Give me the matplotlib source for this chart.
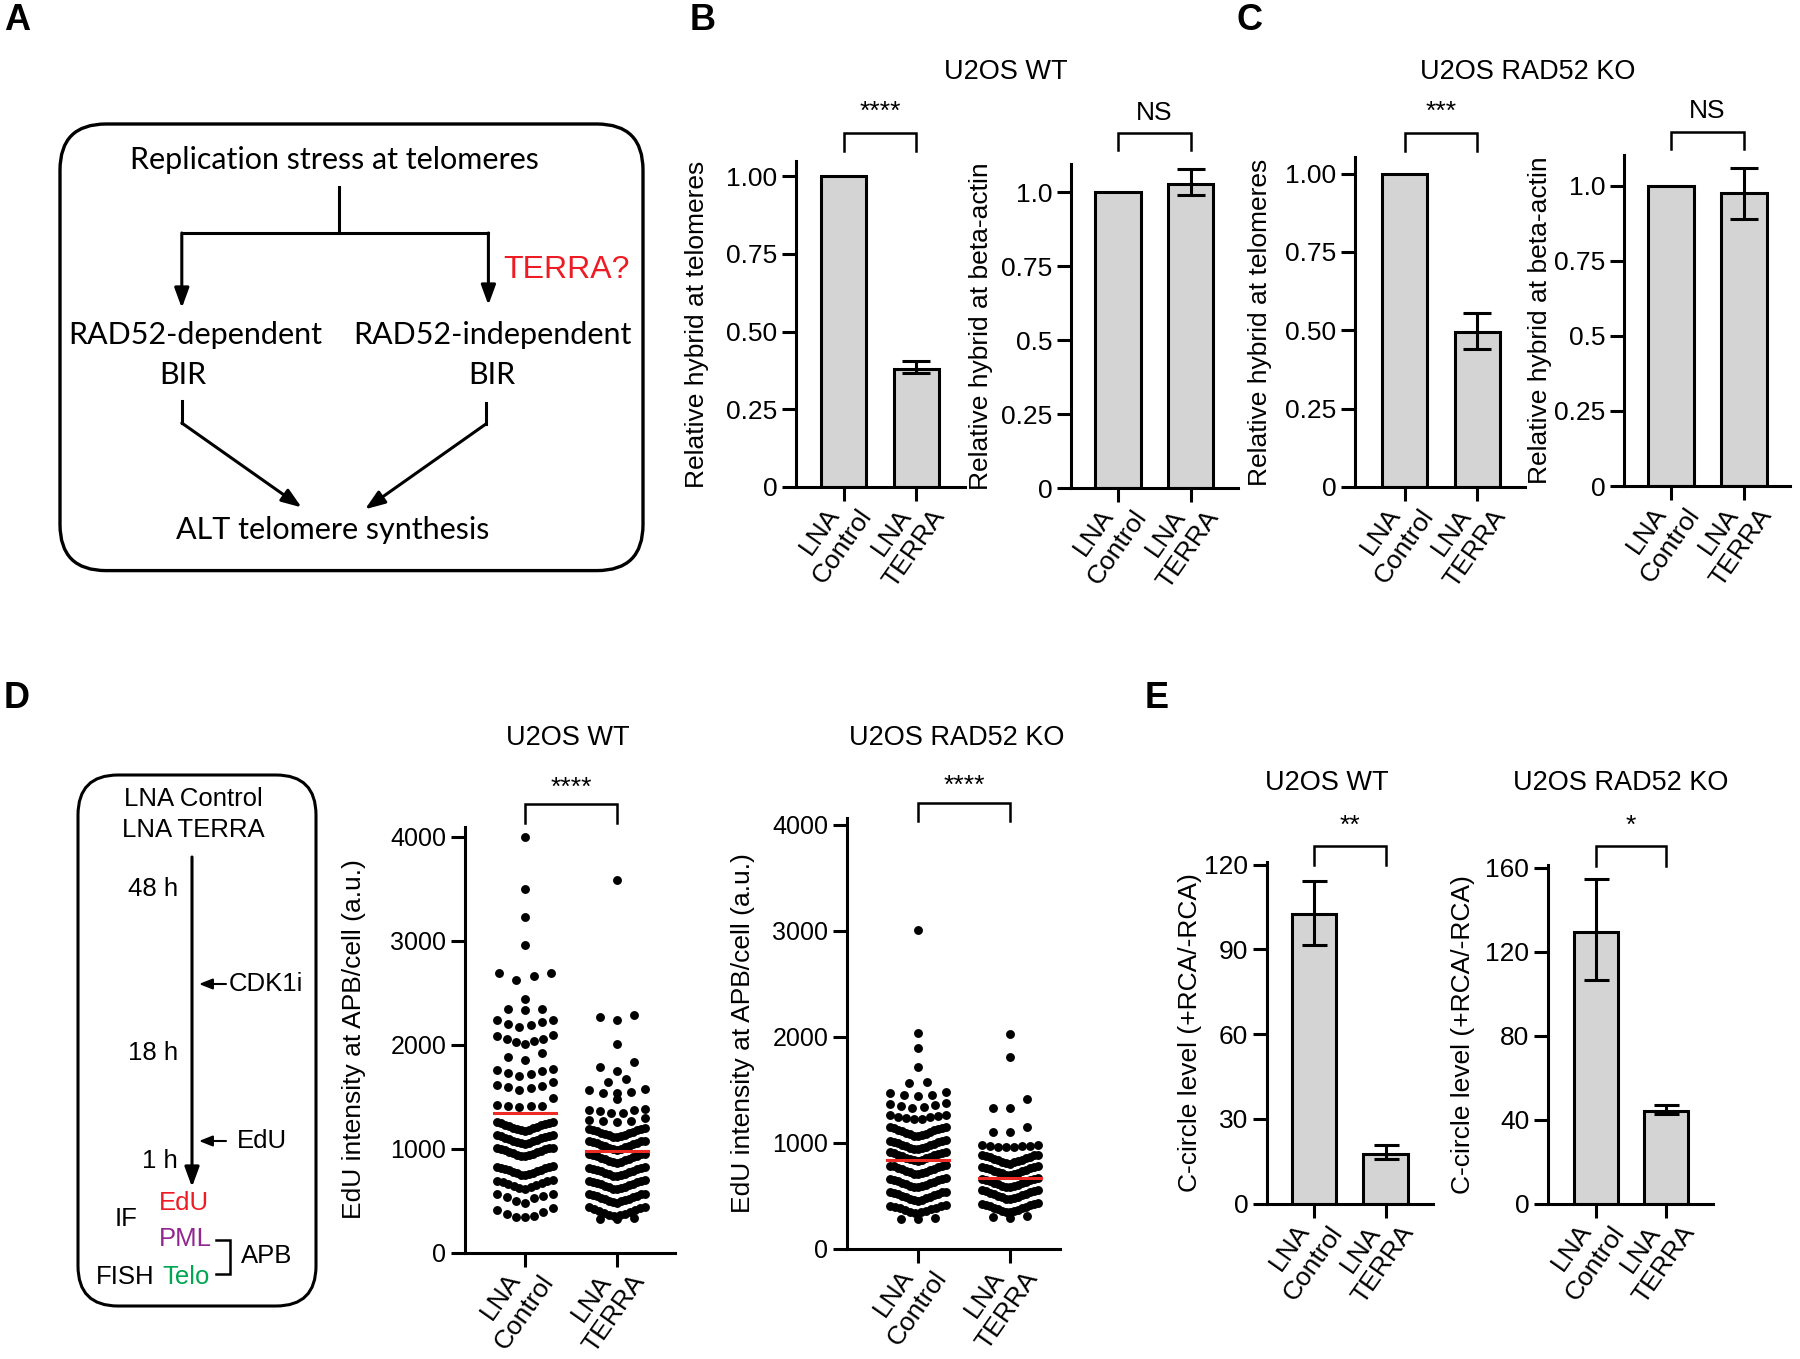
import matplotlib
matplotlib.use("Agg")
import matplotlib.pyplot as plt
import matplotlib.transforms as mtransforms
from matplotlib.patches import FancyBboxPatch

W, H = 1800, 1359
plt.rcParams['font.family'] = ['Liberation Sans', 'DejaVu Sans']

# ---------------- data ----------------
groups = ["LNA\nControl", "LNA\nTERRA"]

# B  U2OS WT, DRIP
b_telo = [1.0, 0.38]
b_telo_lo = [0, 0.012]
b_telo_hi = [0, 0.025]
b_actin = [1.0, 1.03]
b_actin_lo = [0, 0.04]
b_actin_hi = [0, 0.05]

# C  U2OS RAD52 KO, DRIP
c_telo = [1.0, 0.495]
c_telo_lo = [0, 0.055]
c_telo_hi = [0, 0.06]
c_actin = [1.0, 0.975]
c_actin_lo = [0, 0.085]
c_actin_hi = [0, 0.085]

# E  C-circle levels
e_wt = [102.4, 17.7]
e_wt_lo = [10.8, 1.8]
e_wt_hi = [11.9, 3.0]
e_ko = [129.4, 44.2]
e_ko_lo = [22.8, 1.4]
e_ko_hi = [25.5, 2.7]

# D  EdU intensity at APB per cell
wt_control = [
    4000, 3500, 3230, 2960,
    2695, 2690, 2660, 2620,
    2440,
    2340, 2340, 2330,
    2240, 2240, 2220, 2195, 2190, 2170,
    2090, 2080, 2060, 2060, 2040, 2030, 2010,
    1920, 1880, 1850,
    1765, 1760, 1750, 1730, 1715, 1700,
    1640, 1610, 1600, 1590, 1580, 1565,
    1485, 1420, 1415, 1410, 1410, 1405,
    1255, 1252, 1249, 1243, 1237, 1230, 1223, 1215, 1208, 1201, 1194, 1187, 1181, 1175, 1170,
    1130, 1127, 1124, 1118, 1112, 1105, 1098, 1090, 1083, 1076, 1069, 1062, 1056, 1050, 1045,
    1010, 1007, 1004, 998, 992, 985, 978, 970, 963, 956, 949, 942, 936, 930, 925,
    830, 827, 824, 818, 812, 805, 798, 790, 783, 776, 769, 762, 756, 750, 745,
    700, 693, 685, 677, 668, 660, 650, 640, 630, 622, 615,
    565, 560, 540, 530, 520, 500, 480,
    425, 410, 390, 370, 355, 345, 340,
]
wt_terra = [
    3590,
    2290, 2265, 2240,
    2005,
    1830, 1785, 1745,
    1670, 1640,
    1575, 1560, 1545, 1540, 1535,
    1480,
    1385, 1375, 1370, 1365, 1345, 1340,
    1290, 1280, 1270, 1265, 1260,
    1195, 1192, 1189, 1183, 1177, 1170, 1163, 1155, 1148, 1141, 1134, 1127, 1121, 1115, 1110,
    1075, 1072, 1069, 1063, 1057, 1050, 1043, 1035, 1028, 1021, 1014, 1007, 1001, 995, 990,
    950, 947, 944, 938, 932, 925, 918, 910, 903, 896, 889, 882, 876, 870, 865,
    820, 817, 814, 808, 802, 795, 788, 780, 773, 766, 759, 752, 746, 740, 735,
    695, 692, 689, 683, 677, 670, 663, 655, 648, 641, 634, 627, 621, 615, 610,
    565, 562, 559, 553, 547, 540, 533, 525, 518, 511, 504, 497, 491, 485, 480,
    440, 435, 428, 420, 410, 400, 390, 380, 372, 365, 360, 355,
    330, 325, 320,
]
ko_control = [
    3010, 2035, 1895, 1715,
    1575, 1570,
    1480, 1470, 1455, 1450, 1445,
    1380, 1370, 1355, 1345, 1335, 1330,
    1265, 1260, 1252, 1245, 1240, 1232, 1228, 1225,
    1150, 1147, 1144, 1138, 1132, 1125, 1118, 1110, 1103, 1096, 1089, 1082, 1076, 1070, 1065,
    1025, 1022, 1019, 1013, 1007, 1000, 993, 985, 978, 971, 964, 957, 951, 945, 940,
    915, 912, 909, 903, 897, 890, 883, 875, 868, 861, 854, 847, 841, 835, 830,
    790, 787, 784, 778, 772, 765, 758, 750, 743, 736, 729, 722, 716, 710, 705,
    665, 662, 659, 653, 647, 640, 633, 625, 618, 611, 604, 597, 591, 585, 580,
    540, 537, 534, 528, 522, 515, 508, 500, 493, 486, 479, 472, 466, 460, 455,
    415, 410, 405, 398, 390, 382, 375, 367, 359, 352, 345, 338,
    290, 285, 280,
]
ko_terra = [
    2030, 1815, 1410,
    1330, 1325,
    1150, 1105, 1100,
    985, 980, 975, 970, 968, 965, 962, 960,
    890, 887, 884, 878, 872, 865, 858, 850, 843, 836, 829, 822, 816, 810, 805,
    780, 777, 774, 768, 762, 755, 748, 740, 733, 726, 719, 712, 706, 700, 695,
    665, 662, 659, 653, 647, 640, 633, 625, 618, 611, 604, 597, 591, 585, 580,
    555, 552, 549, 543, 537, 530, 523, 515, 508, 501, 494, 487, 481, 475, 470,
    430, 427, 424, 418, 412, 405, 398, 390, 383, 376, 369, 362, 356, 350, 345,
    310, 300, 295,
]
d_means_wt = [1340, 975]
d_means_ko = [840, 670]

# ---------------- figure ----------------
fig = plt.figure(figsize=(W / 100, H / 100), dpi=100)


def add_ax(left, top, right, bottom):
    return fig.add_axes([left / W, 1 - bottom / H, (right - left) / W, (bottom - top) / H])


def make_ax(spine_x, end_x, top_y, zero_y, c0, c1, ymax):
    ax = add_ax(spine_x, top_y, end_x, zero_y)
    u = c1 - c0
    ax.set_xlim((spine_x - c0) / u, (end_x - c0) / u)
    ax.set_ylim(0, ymax)
    return ax


def style_axis(ax, yticks, yticklabels, ylabel, label_px, tick_fs=19):
    for s in ['top', 'right']:
        ax.spines[s].set_visible(False)
    for s in ['left', 'bottom']:
        ax.spines[s].set_linewidth(2.2)
    ax.set_yticks(yticks)
    ax.set_yticklabels(yticklabels)
    ax.set_xticks([0, 1])
    ax.set_xticklabels(groups, rotation=55, ha='right', va='center',
                       rotation_mode='anchor', multialignment='center')
    ax.tick_params(length=10, width=2.2, labelsize=tick_fs)
    ax.tick_params(axis='y', pad=3.5)
    ax.tick_params(axis='x', pad=2, labelsize=19)
    shift = mtransforms.ScaledTranslation(12 / 100, 0, fig.dpi_scale_trans)
    for lab in ax.get_xticklabels():
        lab.set_transform(lab.get_transform() + shift)
    ax.set_ylabel(ylabel, fontsize=19, va='center')
    w = ax.get_position().width * W
    ax.yaxis.set_label_coords(-label_px / w, 0.5)


def bar_axis(geom, vals, lo, hi, yticks, yticklabels, ylabel, label_px, capsize=10):
    ax = make_ax(*geom)
    ax.bar([0, 1], vals, width=0.62, color='#d4d4d4', edgecolor='k', linewidth=2.2, zorder=2)
    for i in range(2):
        if lo[i] > 0 or hi[i] > 0:
            ax.errorbar([i], [vals[i]], yerr=[[lo[i]], [hi[i]]], fmt='none', ecolor='k',
                        elinewidth=2.2, capsize=capsize, capthick=2.2, zorder=3)
    style_axis(ax, yticks, yticklabels, ylabel, label_px)
    return ax


def swarm(vals, thr, step_max, width_max):
    # GraphPad-like layout: rows of nearby values, lowest value in the middle
    idx = sorted(range(len(vals)), key=lambda i: -vals[i])
    rows, cur = [], []
    for i in idx:
        if cur and vals[cur[0]] - vals[i] > thr:
            rows.append(cur)
            cur = []
        cur.append(i)
    if cur:
        rows.append(cur)
    offs = [0.0] * len(vals)
    for row in rows:
        k = len(row)
        step = step_max if k < 2 else min(step_max, width_max / (k - 1))
        slots = sorted([j - (k - 1) / 2 for j in range(k)], key=lambda p: (abs(p), p))
        for i, p in zip(sorted(row, key=lambda i: vals[i]), slots):
            offs[i] = p * step
    return offs


def scatter_axis(geom, data, means, ylabel, label_px):
    ax = make_ax(*geom)
    for c, vals in enumerate(data):
        offs = swarm(vals, 90, 0.185, 0.6)
        ax.plot([c + o for o in offs], vals, 'o', color='k', ms=6.4, mec='none',
                zorder=3, clip_on=False)
        ax.plot([c - 0.34, c + 0.34], [means[c], means[c]], color='#ee2a24', lw=2.2, zorder=4)
    style_axis(ax, [0, 1000, 2000, 3000, 4000], ['0', '1000', '2000', '3000', '4000'],
               ylabel, label_px, tick_fs=18)
    return ax


# geometry: spine_x, end_x, top_y, zero_y, ctrl_x, terra_x, ymax
ax_b1 = bar_axis((796, 965, 161, 487, 843.7, 916.4, 1.049), b_telo, b_telo_lo, b_telo_hi,
                 [0, 0.25, 0.5, 0.75, 1.0], ['0', '0.25', '0.50', '0.75', '1.00'],
                 'Relative hybrid at telomeres', 99)
ax_b2 = bar_axis((1071, 1238, 164, 488, 1118, 1190.8, 1.096), b_actin, b_actin_lo, b_actin_hi,
                 [0, 0.25, 0.5, 0.75, 1.0], ['0', '0.25', '0.5', '0.75', '1.0'],
                 'Relative hybrid at beta-actin', 90)
ax_c1 = bar_axis((1355, 1525, 157, 487, 1404.8, 1477.2, 1.053), c_telo, c_telo_lo, c_telo_hi,
                 [0, 0.25, 0.5, 0.75, 1.0], ['0', '0.25', '0.50', '0.75', '1.00'],
                 'Relative hybrid at telomeres', 95)
ax_c2 = bar_axis((1624, 1790, 155, 486, 1671, 1744, 1.102), c_actin, c_actin_lo, c_actin_hi,
                 [0, 0.25, 0.5, 0.75, 1.0], ['0', '0.25', '0.5', '0.75', '1.0'],
                 'Relative hybrid at beta-actin', 84)
ax_e1 = bar_axis((1267, 1433, 862, 1203.5, 1313.8, 1385.6, 121), e_wt, e_wt_lo, e_wt_hi,
                 [0, 30, 60, 90, 120], ['0', '30', '60', '90', '120'],
                 'C-circle level (+RCA/-RCA)', 77, capsize=9)
ax_e2 = bar_axis((1548, 1713, 865, 1203.5, 1595.8, 1666.3, 161.4), e_ko, e_ko_lo, e_ko_hi,
                 [0, 40, 80, 120, 160], ['0', '40', '80', '120', '160'],
                 'C-circle level (+RCA/-RCA)', 85, capsize=9)
ax_d1 = scatter_axis((465, 675, 826.6, 1252.5, 525, 617, 4100), [wt_control, wt_terra],
                     d_means_wt, 'EdU intensity at APB/cell (a.u.)', 111)
ax_d2 = scatter_axis((847, 1060, 817.7, 1249, 918, 1010, 4067), [ko_control, ko_terra],
                     d_means_ko, 'EdU intensity at APB/cell (a.u.)', 104)

# ---------------- overlay in pixel coordinates ----------------
ov = fig.add_axes([0, 0, 1, 1], zorder=10)
ov.set_xlim(0, W)
ov.set_ylim(H, 0)
ov.axis('off')


def bracket(ax, ybar, yleg, text, ytext):
    x0 = ax.transData.transform((0, 0))[0]
    x1 = ax.transData.transform((1, 0))[0]
    ov.plot([x0, x0, x1, x1], [yleg, ybar, ybar, yleg], color='k', lw=1.8,
            solid_joinstyle='miter')
    ov.text((x0 + x1) / 2, ytext, text, ha='center', va='center', fontsize=19)


bracket(ax_b1, 133, 151, '****', 112)
bracket(ax_b2, 133, 150, 'NS', 113)
bracket(ax_c1, 133, 151, '***', 112)
bracket(ax_c2, 132, 149, 'NS', 111)
bracket(ax_d1, 803.5, 823, '****', 788)
bracket(ax_d2, 802.5, 821, '****', 786)
bracket(ax_e1, 846, 865, '**', 826)
bracket(ax_e2, 846, 866, '*', 826)

titles = [(1006, 72, 'U2OS WT'), (1528, 72, 'U2OS RAD52 KO'),
          (568, 738, 'U2OS WT'), (957, 738, 'U2OS RAD52 KO'),
          (1327, 783, 'U2OS WT'), (1621, 783, 'U2OS RAD52 KO')]
for x, y, t in titles:
    ov.text(x, y, t, ha='center', va='center', fontsize=19.5)

for x, y, t in [(17, 21, 'A'), (703, 21, 'B'), (1249, 21, 'C'), (17, 698, 'D'), (1157, 698, 'E')]:
    ov.text(x, y, t, ha='center', va='center', fontsize=26, fontweight='bold')

# ---------------- panel A schematic ----------------
lw = 2.2
arrow_big = dict(arrowstyle='-|>,head_length=0.6,head_width=0.22', color='k', lw=lw,
                 mutation_scale=20, shrinkA=0, shrinkB=0)
ov.add_patch(FancyBboxPatch((60, 124), 583, 446.6, boxstyle='round,pad=0,rounding_size=46',
                            fc='none', ec='k', lw=2.4))
fa = ['Lato', 'DejaVu Sans']
ov.text(334, 160, 'Replication stress at telomeres', ha='center', va='center', fontsize=22, family=fa)
ov.plot([339, 339], [187, 233], color='k', lw=lw)
ov.plot([181.8, 488.4], [233, 233], color='k', lw=lw, solid_capstyle='projecting')
ov.annotate('', xy=(181.8, 308), xytext=(181.8, 233), arrowprops=arrow_big)
ov.annotate('', xy=(488.4, 305), xytext=(488.4, 233), arrowprops=arrow_big)
ov.text(566, 270, 'TERRA?', ha='center', va='center', fontsize=23, color='#ed1c24')
ov.text(195, 335, 'RAD52-dependent', ha='center', va='center', fontsize=22, family=fa)
ov.text(183, 375, 'BIR', ha='center', va='center', fontsize=22, family=fa)
ov.text(492, 335, 'RAD52-independent', ha='center', va='center', fontsize=22, family=fa)
ov.text(492, 375, 'BIR', ha='center', va='center', fontsize=22, family=fa)
ov.plot([181.8, 181.8], [401, 423], color='k', lw=lw)
ov.annotate('', xy=(301.6, 507.4), xytext=(181.8, 423), arrowprops=arrow_big)
ov.plot([485.9, 485.9], [403, 424], color='k', lw=lw)
ov.annotate('', xy=(365, 509.3), xytext=(485.9, 424), arrowprops=arrow_big)
ov.text(333, 530, 'ALT telomere synthesis', ha='center', va='center', fontsize=22, family=fa)

# ---------------- panel D schematic ----------------
arrow_small = dict(arrowstyle='-|>,head_length=0.5,head_width=0.2', color='k', lw=1.5,
                   mutation_scale=16, shrinkA=0, shrinkB=0)
ov.add_patch(FancyBboxPatch((78, 775), 238, 531, boxstyle='round,pad=0,rounding_size=40',
                            fc='none', ec='k', lw=2.2))
fs = 18.5
ov.text(193, 799, 'LNA Control', ha='center', va='center', fontsize=fs)
ov.text(193, 830, 'LNA TERRA', ha='center', va='center', fontsize=fs)
ov.annotate('', xy=(192, 1187), xytext=(192, 857), arrowprops=arrow_big)
ov.text(178, 889, '48 h', ha='right', va='center', fontsize=fs)
ov.text(178, 1053, '18 h', ha='right', va='center', fontsize=fs)
ov.text(178, 1161, '1 h', ha='right', va='center', fontsize=fs)
ov.annotate('', xy=(199, 984), xytext=(226, 984), arrowprops=arrow_small)
ov.text(229, 984, 'CDK1i', ha='left', va='center', fontsize=fs)
ov.annotate('', xy=(199, 1141), xytext=(226, 1141), arrowprops=arrow_small)
ov.text(237, 1141, 'EdU', ha='left', va='center', fontsize=fs)
ov.text(159, 1203, 'EdU', ha='left', va='center', fontsize=fs, color='#ed1c24')
ov.text(126, 1219, 'IF', ha='center', va='center', fontsize=fs)
ov.text(159, 1239, 'PML', ha='left', va='center', fontsize=fs, color='#92278f')
ov.text(96, 1277, 'FISH', ha='left', va='center', fontsize=fs)
ov.text(162, 1277, 'Telo', ha='left', va='center', fontsize=fs, color='#00a651')
ov.plot([216, 230, 230, 216], [1240, 1240, 1274, 1274], color='k', lw=1.8,
        solid_joinstyle='miter')
ov.text(241, 1256, 'APB', ha='left', va='center', fontsize=fs)

fig.savefig('out.png', dpi=100, facecolor='white')
